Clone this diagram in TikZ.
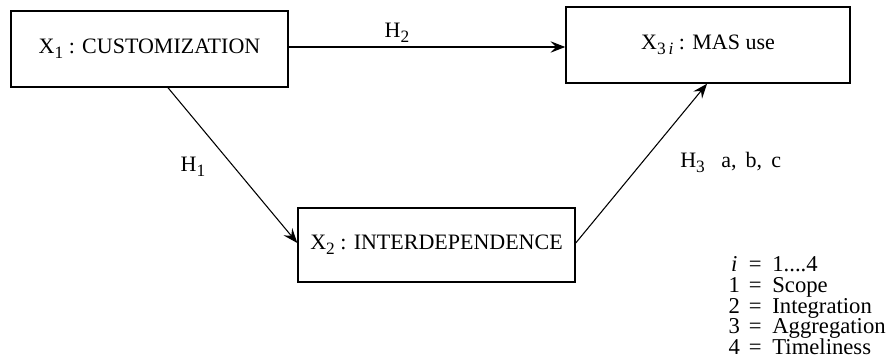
\documentclass[tikz,border=0pt]{standalone}
\usepackage{fontspec}
\setmainfont{Liberation Serif}
\usetikzlibrary{arrows.meta}
\newcommand{\lowsub}[1]{\raisebox{-0.5ex}{\fontsize{13}{13}\selectfont #1}}
\tikzset{
  box/.style={draw, line width=1.1pt, inner sep=0pt, font=\fontsize{16.5}{18}\selectfont},
  link/.style={line width=0.8pt, -{Stealth[length=11pt,width=8.5pt,inset=4pt]}},
  lbl/.style={font=\fontsize{16.5}{18}\selectfont, inner sep=0pt},
  legrow/.style={anchor=base west, inner sep=0pt, font=\fontsize{17}{18}\selectfont}
}
\newcommand{\legline}[3]{\makebox[12pt][c]{#1}\hspace{5pt}#2\hspace{8pt}#3}
\begin{document}
\begin{tikzpicture}[x=0.75pt, y=-0.75pt]
\useasboundingbox (0,0) rectangle (893,363);
\node[box, minimum width=277*0.75pt, minimum height=76*0.75pt] (x1) at (149.5,49) {X\lowsub{1} : CUSTOMIZATION};
\node[box, minimum width=284*0.75pt, minimum height=76*0.75pt] (x3) at (708,45) {X\lowsub{3\,\itshape i} : MAS use};
\node[box, minimum width=277*0.75pt, minimum height=74*0.75pt] (x2) at (436.5,245) {X\lowsub{2} : INTERDEPENDENCE};
\draw[link] (x1.east |- 0,47) -- (x3.west |- 0,47);
\draw[link] (x1.south -| 168,0) -- (x2.west |- 0,243);
\draw[link] (x2.east |- 0,243) -- (x3.south -| 707,0);
\node[lbl] (h2) at (397,33) {H\lowsub{2}};
\node[lbl] (h1) at (193,167) {H\lowsub{1}};
\node[lbl, anchor=west] (h3) at (680,162) {H\lowsub{3}\ \ \ a,\, b,\, c};
\node[legrow] (l0) at (726,272) {\legline{\itshape i}{=}{1....4}};
\node[legrow] (l1) at (726,293) {\legline{1}{=}{Scope}};
\node[legrow] (l2) at (726,313.5) {\legline{2}{=}{Integration}};
\node[legrow] (l3) at (726,334) {\legline{3}{=}{Aggregation}};
\node[legrow] (l4) at (726,355) {\legline{4}{=}{Timeliness}};
\end{tikzpicture}
\end{document}
